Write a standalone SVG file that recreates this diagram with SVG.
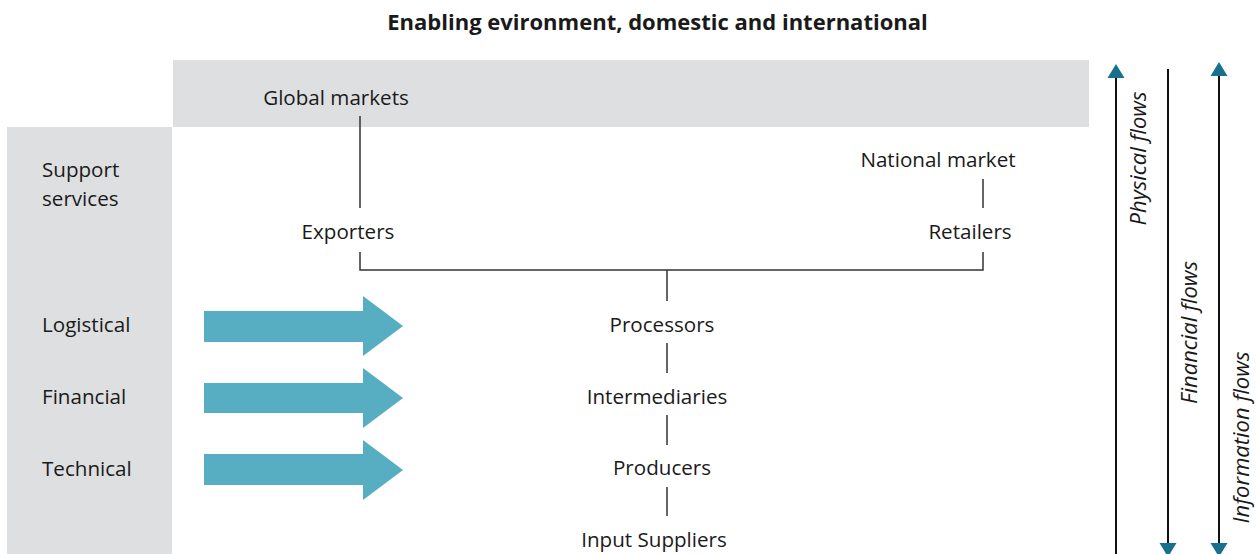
<svg xmlns="http://www.w3.org/2000/svg" width="1258" height="554" viewBox="0 0 1258 554">
<style>
text{font-family:"Open Sans","Liberation Sans",sans-serif;fill:#1a1a1a;font-size:20.6px}
.c{text-anchor:middle}
.t{font-weight:bold;font-size:22px}
.i{font-style:italic;text-anchor:middle;font-size:22px}
.ln{stroke:#333;stroke-width:1.5;fill:none}
.fl{stroke:#111;stroke-width:2;fill:none}
.bg{fill:#dedfe1}
.ba{fill:#57aec2}
.ah{fill:#17718c}
</style>
<g id="background">
<rect class="bg" x="173" y="60" width="916" height="67"/>
<rect class="bg" x="7" y="127" width="165" height="427"/>
</g>
<text class="t c" x="657.5" y="29.5">Enabling evironment, domestic and international</text>
<g id="connectors">
<line class="ln" x1="360" y1="116" x2="360" y2="208"/>
<line class="ln" x1="983" y1="179" x2="983" y2="208"/>
<polyline class="ln" points="360,252 360,270 983,270 983,252"/>
<line class="ln" x1="667" y1="270" x2="667" y2="301"/>
<line class="ln" x1="667" y1="343" x2="667" y2="373"/>
<line class="ln" x1="667" y1="415" x2="667" y2="445"/>
<line class="ln" x1="667" y1="487" x2="667" y2="516"/>
</g>
<g id="global-markets"><text class="c" x="336" y="105">Global markets</text></g>
<g id="support-services"><text x="42" y="177">Support</text><text x="42" y="206">services</text></g>
<g id="national-market"><text class="c" x="938" y="167">National market</text></g>
<g id="exporters"><text class="c" x="348" y="239">Exporters</text></g>
<g id="retailers"><text class="c" x="970" y="239">Retailers</text></g>
<g id="processors"><text class="c" x="662" y="332">Processors</text></g>
<g id="intermediaries"><text class="c" x="657" y="404">Intermediaries</text></g>
<g id="producers"><text class="c" x="662" y="475">Producers</text></g>
<g id="input-suppliers"><text class="c" x="654" y="547">Input Suppliers</text></g>
<g id="logistical"><text x="42" y="332">Logistical</text><polygon class="ba" points="204,311 363,311 363,296 403,326 363,356 363,342 204,342"/></g>
<g id="financial"><text x="42" y="404">Financial</text><polygon class="ba" points="204,383 363,383 363,368 403,398 363,428 363,413 204,413"/></g>
<g id="technical"><text x="42" y="476">Technical</text><polygon class="ba" points="204,454 363,454 363,440 403,470 363,500 363,485 204,485"/></g>
<g id="physical-flows">
<line class="fl" x1="1116" y1="76" x2="1116" y2="554"/>
<polygon class="ah" points="1116,64 1124.5,78 1107.5,78"/>
<text class="i" transform="translate(1146,158.5) rotate(-90)">Physical flows</text>
</g>
<g id="financial-flows">
<line class="fl" x1="1168" y1="69" x2="1168" y2="545"/>
<polygon class="ah" points="1168,557 1176.5,543 1159.5,543"/>
<text class="i" transform="translate(1197,332.5) rotate(-90)">Financial flows</text>
</g>
<g id="information-flows">
<line class="fl" x1="1219" y1="73" x2="1219" y2="545"/>
<polygon class="ah" points="1219,62 1227.5,76 1210.5,76"/>
<polygon class="ah" points="1219,557 1227.5,543 1210.5,543"/>
<text class="i" transform="translate(1249,437.5) rotate(-90)">Information flows</text>
</g>
</svg>
